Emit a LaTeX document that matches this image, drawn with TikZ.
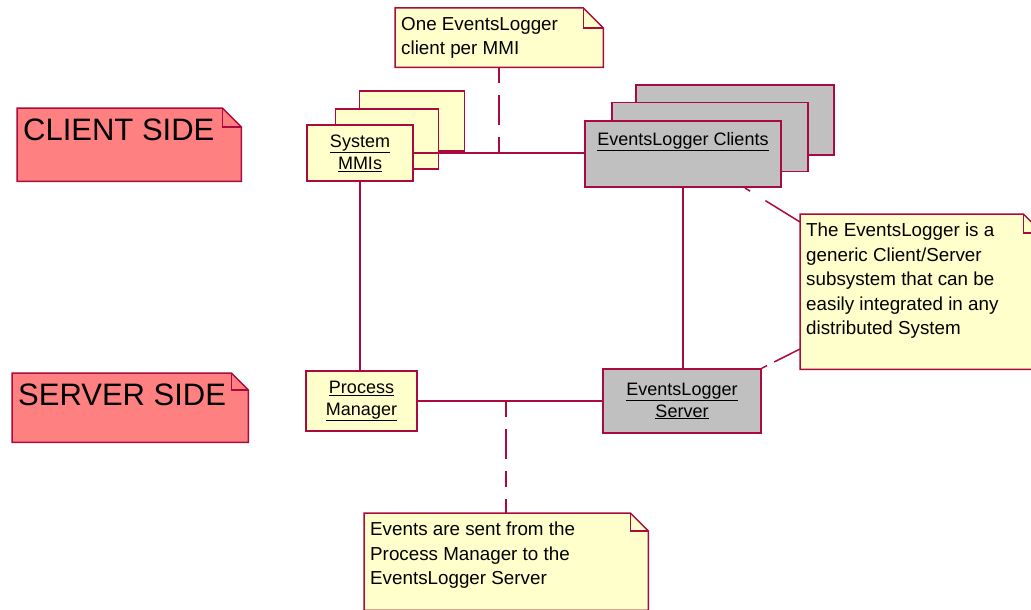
\documentclass[tikz,border=0pt]{standalone}
\usepackage{fontspec}
\setmainfont{Liberation Sans}
\usetikzlibrary{backgrounds}

\definecolor{roseline}{RGB}{170,10,60}
\definecolor{notepink}{RGB}{255,128,128}
\definecolor{noteyellow}{RGB}{255,255,204}
\definecolor{compgray}{RGB}{192,192,192}

\tikzset{
  compbox/.style={draw=roseline, line width=1.5pt, fill=noteyellow, inner sep=0pt,
    align=center, font=\fontsize{18}{22}\selectfont},
  graybox/.style={compbox, fill=compgray},
  umlnote/.style={anchor=north west, inner xsep=6pt, inner ysep=9pt,
    font=\fontsize{18.8}{24.5}\selectfont},
  sidenote/.style={umlnote, inner xsep=6pt, inner ysep=11pt, font=\fontsize{31}{36}\selectfont},
  link/.style={roseline, line width=1.5pt},
  noteline/.style={link, dash pattern=on 16pt off 12pt on 30pt off 12pt},
}

% note outline with folded corner, behind the text
\newcommand{\dognote}[3]{%
  \begin{scope}[on background layer]
    \filldraw[link, fill=#3] (#1.north west) -- ([xshift=-#2pt]#1.north east)
      -- ([yshift=-#2pt]#1.north east) -- (#1.south east) -- (#1.south west) -- cycle;
    \draw[link] ([xshift=-#2pt]#1.north east) |- ([yshift=-#2pt]#1.north east);
  \end{scope}}

\begin{document}
\begin{tikzpicture}[x=1pt, y=-1pt]
    \useasboundingbox (0,0) rectangle (1031,610);

    % side labels
    \node[sidenote] (clientside) at (17,108) {\parbox[c][51pt][t]{212pt}{CLIENT SIDE}};
    \node[sidenote] (serverside) at (12,373) {\parbox[c][47pt][t]{224pt}{SERVER SIDE}};
    \dognote{clientside}{19}{notepink}
    \dognote{serverside}{17}{notepink}

    % MMIs stack
    \node[compbox, minimum width=105pt, minimum height=60pt] (mmiback) at (412,121) {};
    \node[compbox, minimum width=103pt, minimum height=60pt] (mmimid) at (387,139) {};
    \node[compbox, minimum width=106pt, minimum height=56pt] (mmi) at (360,153)
        {\underline{System}\\\underline{MMIs}};

    % clients stack
    \node[graybox, minimum width=198pt, minimum height=70pt] (clientsback) at (735,120) {};
    \node[graybox, minimum width=196pt, minimum height=69pt] (clientsmid) at (710,137) {};
    \node[graybox, minimum width=196pt, minimum height=66pt] (clients) at (683,154)
        {\underline{EventsLogger Clients}\\[8pt]\mbox{}};

    % server side
    \node[compbox, minimum width=111pt, minimum height=60pt] (pm) at (361.5,401)
        {\underline{Process}\\\underline{Manager}};
    \node[graybox, minimum width=158pt, minimum height=64pt] (server) at (682,401)
        {\underline{EventsLogger}\\\underline{Server}};

    % notes
    \node[umlnote] (mminote) at (395,8)
        {\parbox[c][41pt][t]{196pt}{One EventsLogger\\client per MMI}};
    \node[umlnote] (eventnote) at (364,513)
        {\parbox[c][79pt][t]{272pt}{Events are sent from the\\Process Manager to the\\EventsLogger Server}};
    \node[umlnote] (csnote) at (800,214)
        {\parbox[c][137pt][t]{230pt}{The EventsLogger is a\\generic Client/Server\\subsystem that can be\\easily integrated in any\\distributed System}};
    \dognote{mminote}{20}{noteyellow}
    \dognote{eventnote}{18}{noteyellow}
    \dognote{csnote}{19}{noteyellow}

    % connections
    \draw[link] (mmi.east) -- (mmi.east -| clients.west);
    \draw[link] (mmi.south) -- (mmi.south |- pm.north);
    \draw[link] (clients.south) -- (clients.south |- server.north);
    \draw[link] (pm.east) -- (pm.east -| server.west);

    % note anchors
    \coordinate (mmitap) at (mminote.south |- mmi.east);
    \coordinate (pmtap) at (eventnote.north |- pm.east);
    \coordinate (clientsfoot) at (745,188);
    \draw[noteline] (mminote.south) -- (mmitap);
    \draw[noteline] (pmtap) -- (eventnote.north);
    \draw[link, dash pattern=on 6pt off 18pt on 60pt] (clientsfoot) -- ([yshift=-8pt]csnote.north west);
    \draw[link, dash pattern=on 6pt off 8pt on 60pt] (server.north east) -- ([yshift=-135pt]csnote.north west);
\end{tikzpicture}
\end{document}
